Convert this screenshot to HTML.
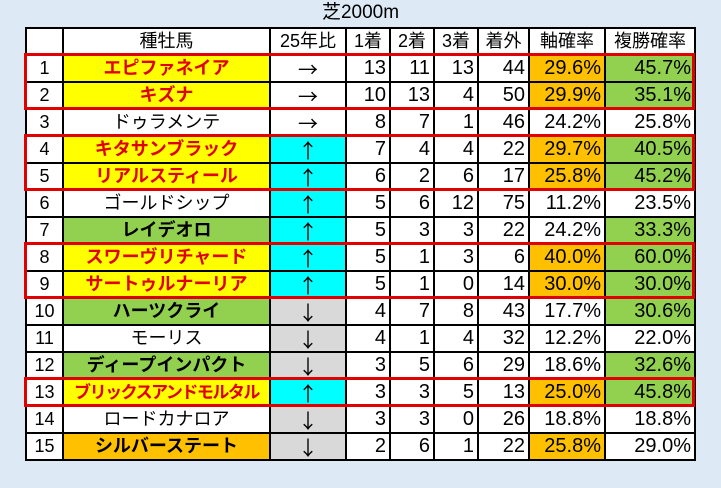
<!DOCTYPE html>
<html><head><meta charset="utf-8"><style>
body{margin:0;width:721px;height:488px;background:#dde9f5;font-family:"Liberation Sans","Noto Sans CJK JP",sans-serif;position:relative;overflow:hidden}
.t{position:absolute;left:0;top:0;width:721px;text-align:center;font-size:19px;line-height:26px;color:#000}
table{position:absolute;left:25px;top:27px;width:669px;border-collapse:collapse;table-layout:fixed;background:#fff}
td{border:2px solid #000;height:25px;padding:0 3px;font-size:18px;line-height:25px;white-space:nowrap;overflow:hidden;color:#000}
.c{text-align:center}.r{text-align:right;font-size:20px}
.a{font-family:"Noto Sans CJK JP",sans-serif;font-size:20px}
.y{background:#ffff00}.o{background:#ffc000}.g{background:#92d050}.cy{background:#00ffff}.gr{background:#d9d9d9}
.rd{color:#e00000;font-weight:bold}.b{font-weight:bold}
.box{position:absolute;left:24px;width:671px;border:3px solid #e00000;box-sizing:border-box}
</style></head><body>
<div class="t">芝2000m</div>
<table>
<colgroup><col style="width:37px"><col style="width:207px"><col style="width:76px"><col style="width:44px"><col style="width:44px"><col style="width:44px"><col style="width:51px"><col style="width:76px"><col style="width:90px"></colgroup>
<tr><td></td><td class="c">種牡馬</td><td class="c">25年比</td><td class="c">1着</td><td class="c">2着</td><td class="c">3着</td><td class="c">着外</td><td class="c">軸確率</td><td class="c">複勝確率</td></tr>
<tr><td class="c">1</td><td class="c y rd">エピファネイア</td><td class="c a">→</td><td class="r">13</td><td class="r">11</td><td class="r">13</td><td class="r">44</td><td class="r o">29.6%</td><td class="r g">45.7%</td></tr>
<tr><td class="c">2</td><td class="c y rd">キズナ</td><td class="c a">→</td><td class="r">10</td><td class="r">13</td><td class="r">4</td><td class="r">50</td><td class="r o">29.9%</td><td class="r g">35.1%</td></tr>
<tr><td class="c">3</td><td class="c">ドゥラメンテ</td><td class="c a">→</td><td class="r">8</td><td class="r">7</td><td class="r">1</td><td class="r">46</td><td class="r">24.2%</td><td class="r">25.8%</td></tr>
<tr><td class="c">4</td><td class="c y rd">キタサンブラック</td><td class="c cy a">↑</td><td class="r">7</td><td class="r">4</td><td class="r">4</td><td class="r">22</td><td class="r o">29.7%</td><td class="r g">40.5%</td></tr>
<tr><td class="c">5</td><td class="c y rd">リアルスティール</td><td class="c cy a">↑</td><td class="r">6</td><td class="r">2</td><td class="r">6</td><td class="r">17</td><td class="r o">25.8%</td><td class="r g">45.2%</td></tr>
<tr><td class="c">6</td><td class="c">ゴールドシップ</td><td class="c cy a">↑</td><td class="r">5</td><td class="r">6</td><td class="r">12</td><td class="r">75</td><td class="r">11.2%</td><td class="r">23.5%</td></tr>
<tr><td class="c">7</td><td class="c g b">レイデオロ</td><td class="c cy a">↑</td><td class="r">5</td><td class="r">3</td><td class="r">3</td><td class="r">22</td><td class="r">24.2%</td><td class="r g">33.3%</td></tr>
<tr><td class="c">8</td><td class="c y rd">スワーヴリチャード</td><td class="c cy a">↑</td><td class="r">5</td><td class="r">1</td><td class="r">3</td><td class="r">6</td><td class="r o">40.0%</td><td class="r g">60.0%</td></tr>
<tr><td class="c">9</td><td class="c y rd">サートゥルナーリア</td><td class="c cy a">↑</td><td class="r">5</td><td class="r">1</td><td class="r">0</td><td class="r">14</td><td class="r o">30.0%</td><td class="r g">30.0%</td></tr>
<tr><td class="c">10</td><td class="c g b">ハーツクライ</td><td class="c gr a">↓</td><td class="r">4</td><td class="r">7</td><td class="r">8</td><td class="r">43</td><td class="r">17.7%</td><td class="r g">30.6%</td></tr>
<tr><td class="c">11</td><td class="c">モーリス</td><td class="c gr a">↓</td><td class="r">4</td><td class="r">1</td><td class="r">4</td><td class="r">32</td><td class="r">12.2%</td><td class="r">22.0%</td></tr>
<tr><td class="c">12</td><td class="c g b">ディープインパクト</td><td class="c gr a">↓</td><td class="r">3</td><td class="r">5</td><td class="r">6</td><td class="r">29</td><td class="r">18.6%</td><td class="r g">32.6%</td></tr>
<tr><td class="c">13</td><td class="c y rd" style="letter-spacing:-1.5px;font-size:17px">ブリックスアンドモルタル</td><td class="c cy a">↑</td><td class="r">3</td><td class="r">3</td><td class="r">5</td><td class="r">13</td><td class="r o">25.0%</td><td class="r g">45.8%</td></tr>
<tr><td class="c">14</td><td class="c">ロードカナロア</td><td class="c gr a">↓</td><td class="r">3</td><td class="r">3</td><td class="r">0</td><td class="r">26</td><td class="r">18.8%</td><td class="r">18.8%</td></tr>
<tr><td class="c">15</td><td class="c o b">シルバーステート</td><td class="c gr a">↓</td><td class="r">2</td><td class="r">6</td><td class="r">1</td><td class="r">22</td><td class="r o">25.8%</td><td class="r">29.0%</td></tr>
</table>
<div class="box" style="top:53px;height:57px"></div>
<div class="box" style="top:134px;height:57px"></div>
<div class="box" style="top:242px;height:57px"></div>
<div class="box" style="top:377px;height:30px"></div>
</body></html>
